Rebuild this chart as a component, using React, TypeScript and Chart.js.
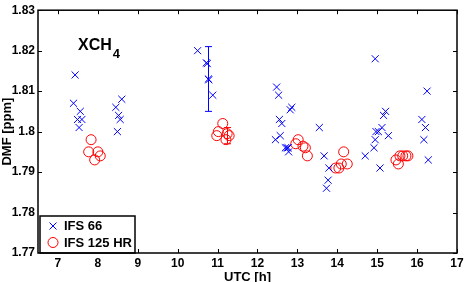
import React, { useEffect, useRef } from "react";
import { Chart, registerables } from "chart.js";

Chart.register(...registerables);

// ---- data ----
const ifs66Hours = [
  7.43, 7.39, 7.56, 7.49, 7.6, 7.53,
  8.6, 8.45, 8.52, 8.56, 8.49,
  10.5, 10.72, 10.74, 10.77, 10.78, 10.88,
  12.48, 12.53, 12.82, 12.86, 12.55, 12.61, 12.45, 12.57, 12.7, 12.74, 12.77, 12.78,
  13.55, 13.67, 13.79, 13.77, 13.73,
  14.95, 15.16, 15.21, 15.12, 14.97, 15.03, 15.28, 14.95, 14.92, 14.7, 15.07,
  16.25, 16.12, 16.21, 16.17, 16.28,
];
const ifs66Values = [
  1.814, 1.807, 1.805, 1.803, 1.803, 1.801,
  1.808, 1.806, 1.804, 1.803, 1.8,
  1.82, 1.817, 1.8168, 1.813, 1.8128, 1.809,
  1.811, 1.809, 1.8054, 1.806, 1.803, 1.802, 1.798, 1.799, 1.796, 1.796, 1.796, 1.795,
  1.801, 1.794, 1.791, 1.788, 1.786,
  1.818, 1.804, 1.805, 1.801, 1.8, 1.8, 1.799, 1.798, 1.796, 1.794, 1.791,
  1.81, 1.803, 1.801, 1.798, 1.793,
];
const ifs125Hours = [
  7.83, 7.77, 8.0, 8.06, 7.92,
  11.13, 11.02, 10.98, 11.24, 11.29, 11.21,
  13.02, 12.96, 13.14, 13.2, 13.25,
  14.16, 13.96, 14.04, 14.1, 14.25,
  15.47, 15.53, 15.57, 15.64, 15.72, 15.77,
];
const ifs125Values = [
  1.798, 1.795, 1.795, 1.794, 1.793,
  1.802, 1.8, 1.799, 1.7995, 1.799, 1.798,
  1.798, 1.797, 1.7964, 1.796, 1.794,
  1.795, 1.791, 1.791, 1.792, 1.792,
  1.793, 1.792, 1.794, 1.794, 1.794, 1.794,
];
// error bars: hour, centre, half-range
const ifs66ErrHour = [10.77];
const ifs66ErrMean = [1.813];
const ifs66ErrHalf = [0.008];
const ifs125ErrHour = [11.24];
const ifs125ErrMean = [1.799];
const ifs125ErrHalf = [0.002];

const xTickValues = [7, 8, 9, 10, 11, 12, 13, 14, 15, 16, 17];
const yTickValues = [1.77, 1.78, 1.79, 1.8, 1.81, 1.82, 1.83];
const yTickLabels = ["1.77", "1.78", "1.79", "1.8", "1.81", "1.82", "1.83"];
const seriesLabels = ["IFS 66", "IFS 125 HR"];
const seriesColors = ["#0000ff", "#ff0000"];

const FONT = "'Liberation Sans', Arial, sans-serif";

const decorPlugin = {
  id: "decor",
  afterDatasetsDraw(chart: any) {
    const { ctx, chartArea: ca, scales } = chart;
    const xs = scales.x;
    const ys = scales.y;
    ctx.save();
    // error bars
    const drawErr = (hours: number[], means: number[], halfs: number[], color: string) => {
      ctx.strokeStyle = color;
      ctx.lineWidth = 1;
      hours.forEach((h, i) => {
        const px = Math.round(xs.getPixelForValue(h)) + 0.5;
        const top = ys.getPixelForValue(means[i] + halfs[i]);
        const bot = ys.getPixelForValue(means[i] - halfs[i]);
        ctx.beginPath();
        ctx.moveTo(px, top);
        ctx.lineTo(px, bot);
        ctx.moveTo(px - 3.5, top);
        ctx.lineTo(px + 3.5, top);
        ctx.moveTo(px - 3.5, bot);
        ctx.lineTo(px + 3.5, bot);
        ctx.stroke();
      });
    };
    drawErr(ifs66ErrHour, ifs66ErrMean, ifs66ErrHalf, seriesColors[0]);
    drawErr(ifs125ErrHour, ifs125ErrMean, ifs125ErrHalf, seriesColors[1]);

    // title XCH4
    ctx.fillStyle = "#000";
    ctx.textBaseline = "alphabetic";
    ctx.textAlign = "left";
    ctx.font = `bold 16px ${FONT}`;
    ctx.fillText("XCH", 78, 50);
    const w = ctx.measureText("XCH").width;
    ctx.font = `bold 13px ${FONT}`;
    ctx.fillText("4", 78 + w + 1, 58);

    // legend
    const lx = ca.left + 2;
    const ly = 216;
    const lw = 95;
    const lh = ca.bottom - ly;
    ctx.fillStyle = "#fff";
    ctx.fillRect(lx, ly, lw, lh);
    ctx.strokeStyle = "#000";
    ctx.lineWidth = 1.5;
    ctx.strokeRect(lx, ly, lw, lh);
    ctx.font = `bold 13px ${FONT}`;
    ctx.textBaseline = "middle";
    ctx.fillStyle = "#000";
    const rows = [226, 242.5];
    ctx.strokeStyle = seriesColors[0];
    ctx.lineWidth = 1;
    ctx.beginPath();
    ctx.moveTo(53 - 3.5, rows[0] - 3.5);
    ctx.lineTo(53 + 3.5, rows[0] + 3.5);
    ctx.moveTo(53 + 3.5, rows[0] - 3.5);
    ctx.lineTo(53 - 3.5, rows[0] + 3.5);
    ctx.stroke();
    ctx.strokeStyle = seriesColors[1];
    ctx.beginPath();
    ctx.arc(53, rows[1], 5, 0, Math.PI * 2);
    ctx.stroke();
    ctx.fillText(seriesLabels[0], 64, rows[0] + 0.5);
    ctx.fillText(seriesLabels[1], 64, rows[1] + 0.5);

    // frame
    ctx.strokeStyle = "#000";
    ctx.lineWidth = 1.5;
    ctx.strokeRect(ca.left, ca.top, ca.right - ca.left, ca.bottom - ca.top);
    // inner ticks
    ctx.lineWidth = 1;
    ctx.beginPath();
    xTickValues.forEach((v) => {
      const px = Math.round(xs.getPixelForValue(v)) + 0.5;
      if (v !== 7 && v !== 8) {
        ctx.moveTo(px, ca.bottom);
        ctx.lineTo(px, ca.bottom - 4);
      }
      ctx.moveTo(px, ca.top);
      ctx.lineTo(px, ca.top + 4);
    });
    yTickValues.forEach((v) => {
      const py = Math.round(ys.getPixelForValue(v)) + 0.5;
      if (v > 1.78) {
        ctx.moveTo(ca.left, py);
        ctx.lineTo(ca.left + 4, py);
      }
      ctx.moveTo(ca.right, py);
      ctx.lineTo(ca.right - 4, py);
    });
    ctx.stroke();
    ctx.restore();
  },
};

export default function App() {
  const ref = useRef<HTMLCanvasElement>(null);
  useEffect(() => {
    if (!ref.current) return;
    Chart.defaults.font.family = FONT;
    Chart.defaults.color = "#000";
    const chart = new Chart(ref.current, {
      type: "scatter",
      data: {
        datasets: [
          {
            label: seriesLabels[0],
            data: ifs66Hours.map((h, i) => ({ x: h, y: ifs66Values[i] })),
            pointStyle: "crossRot",
            pointRadius: 5,
            borderColor: seriesColors[0],
            backgroundColor: seriesColors[0],
            borderWidth: 1,
          },
          {
            label: seriesLabels[1],
            data: ifs125Hours.map((h, i) => ({ x: h, y: ifs125Values[i] })),
            pointStyle: "circle",
            pointRadius: 5,
            borderColor: seriesColors[1],
            backgroundColor: "rgba(0,0,0,0)",
            borderWidth: 1,
          },
        ],
      },
      options: {
        animation: false,
        responsive: false,
        devicePixelRatio: 1,
        layout: { padding: { top: 5, right: 10, left: 0, bottom: 0 } },
        plugins: { legend: { display: false }, tooltip: { enabled: false } },
        scales: {
          x: {
            type: "linear",
            min: 6.5,
            max: 17,
            grid: { display: false, drawTicks: false },
            border: { display: false },
            afterBuildTicks: (s: any) => {
              s.ticks = xTickValues.map((v) => ({ value: v }));
            },
            afterFit: (s: any) => {
              s.height = 29;
            },
            ticks: {
              padding: 3,
              maxRotation: 0,
              autoSkip: false,
              font: { size: 12, weight: "bold" },
              callback: (v: any) => String(v),
            },
            title: {
              display: true,
              text: "UTC [h]",
              font: { size: 13, weight: "bold", lineHeight: 1 },
              padding: { top: 0, bottom: -2 },
            },
          },
          y: {
            type: "linear",
            min: 1.77,
            max: 1.83,
            grid: { display: false, drawTicks: false },
            border: { display: false },
            afterBuildTicks: (s: any) => {
              s.ticks = yTickValues.map((v) => ({ value: v }));
            },
            afterFit: (s: any) => {
              s.width = 38;
            },
            ticks: {
              padding: 3,
              autoSkip: false,
              font: { size: 12, weight: "bold" },
              callback: (_v: any, i: number) => yTickLabels[i],
            },
            title: {
              display: true,
              text: "DMF [ppm]",
              font: { size: 13, weight: "bold", lineHeight: 1.1 },
              padding: 0,
            },
          },
        },
      },
      plugins: [decorPlugin],
    } as any);
    return () => chart.destroy();
  }, []);
  return (
    <div style={{ position: "fixed", left: 0, top: 0, width: 467, height: 282, background: "#fff" }}>
      <canvas ref={ref} width={467} height={282} />
    </div>
  );
}
